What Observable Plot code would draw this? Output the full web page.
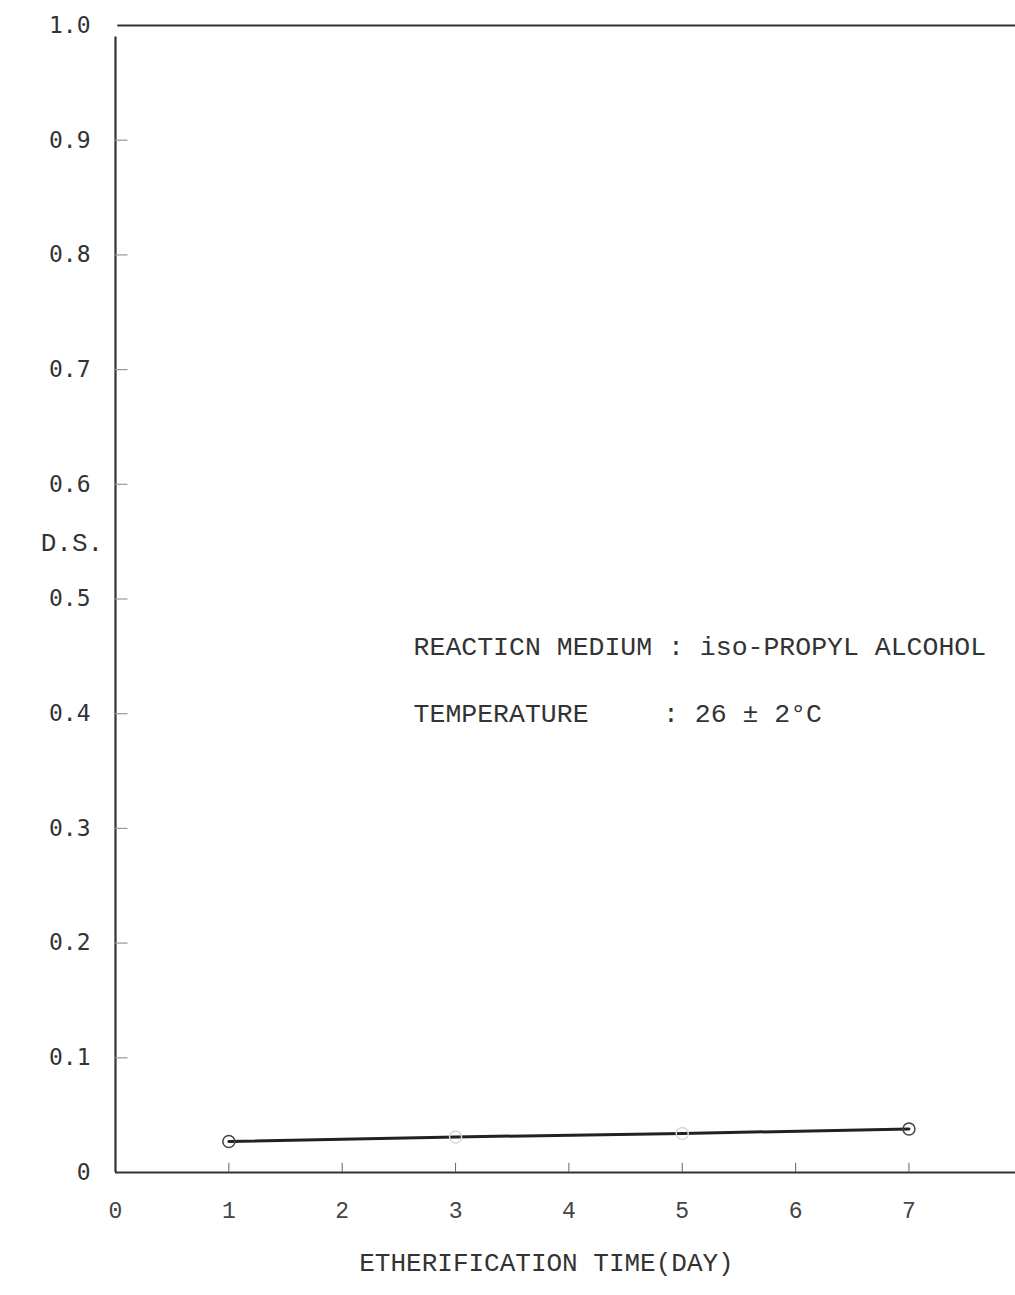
<!DOCTYPE html>
<html>
<head>
<meta charset="utf-8">
<script src="https://cdn.jsdelivr.net/npm/d3@7"></script>
<script src="https://cdn.jsdelivr.net/npm/@observablehq/plot@0.6"></script>
<style>
  html, body { margin: 0; padding: 0; background: #fff; }
  #chart svg { display: block; }
</style>
</head>
<body>
<div id="chart"></div>
<script>
// Degree of substitution vs. etherification time
const days = [1, 3, 5, 7];
const ds = [0.027, 0.031, 0.034, 0.038];
const xTicks = [0, 1, 2, 3, 4, 5, 6, 7];
const xTickLabels = ["0", "1", "2", "3", "4", "5", "6", "7"];
const yTicks = [0, 0.1, 0.2, 0.3, 0.4, 0.5, 0.6, 0.7, 0.8, 0.9, 1.0];
const yTickLabels = ["0", "0.1", "0.2", "0.3", "0.4", "0.5", "0.6", "0.7", "0.8", "0.9", "1.0"];
const xTitle = "ETHERIFICATION TIME(DAY)";
const yTitle = "D.S.";
const noteMedium = "REACTICN MEDIUM : iso-PROPYL ALCOHOL";
const noteTempLabel = "TEMPERATURE";
const noteTempValue = ": 26 ± 2°C";

const points = days.map((d, i) => ({day: d, ds: ds[i], solid: i === 0 || i === days.length - 1}));

const ink = "#333";
const typeFont = "'Liberation Mono', 'DejaVu Sans Mono', monospace";
const tickFont = "'DejaVu Sans Mono', 'Liberation Mono', monospace";

const chart = Plot.plot({
  width: 1015,
  height: 1295,
  marginLeft: 115,
  marginRight: 0,
  marginTop: 25,
  marginBottom: 123,
  style: {background: "#fff", color: ink, overflow: "visible"},
  x: {domain: [0, 7.94]},
  y: {domain: [0, 1]},
  marks: [
    // frame lines
    Plot.ruleY([1], {x1: 0.02, x2: 7.94, stroke: ink, strokeWidth: 2}),
    Plot.ruleX([0], {y1: 0, y2: 0.99, stroke: ink, strokeWidth: 2.2}),
    Plot.ruleY([0], {x1: 0, x2: 7.94, stroke: ink, strokeWidth: 2.2}),
    // inner tick marks
    Plot.ruleY(yTicks.slice(1, -1), {x1: 0, x2: 0.11, stroke: "#999", strokeWidth: 1.2}),
    Plot.ruleX(xTicks.slice(1), {y1: 0, y2: 0.008, stroke: "#666", strokeWidth: 1}),
    // axes (labels only)
    Plot.axisY({
      ticks: yTicks,
      tickFormat: (d) => yTickLabels[yTicks.indexOf(d)],
      tickSize: 0,
      tickPadding: 25,
      label: null,
      fontSize: 23,
      fontFamily: tickFont,
      fill: ink
    }),
    Plot.axisX({
      ticks: xTicks,
      tickFormat: (d) => xTickLabels[xTicks.indexOf(d)],
      tickSize: 0,
      tickPadding: 29,
      label: null,
      fontSize: 23,
      fontFamily: typeFont,
      fill: "#444"
    }),
    // axis titles
    Plot.text([yTitle], {x: -0.66, y: 0.549, text: (d) => d, textAnchor: "start",
      fontSize: 26, fontFamily: typeFont, fill: ink}),
    Plot.text([xTitle], {frameAnchor: "bottom", dx: -19, dy: 98, text: (d) => d,
      fontSize: 26, fontFamily: typeFont, fill: ink}),
    // annotations
    Plot.text([noteMedium], {x: 2.63, y: 0.459, text: (d) => d, textAnchor: "start",
      fontSize: 26.5, fontFamily: typeFont, fill: ink}),
    Plot.text([noteTempLabel], {x: 2.63, y: 0.4, text: (d) => d, textAnchor: "start",
      fontSize: 26.5, fontFamily: typeFont, fill: ink}),
    Plot.text([noteTempValue], {x: 4.83, y: 0.4, text: (d) => d, textAnchor: "start",
      fontSize: 26.5, fontFamily: typeFont, fill: ink}),
    // data
    Plot.line(points, {x: "day", y: "ds", stroke: "#222", strokeWidth: 3}),
    Plot.dot(points, {x: "day", y: "ds", r: 6, fill: "#fff", fillOpacity: 0,
      stroke: (d) => d.solid ? "#444" : "#d8d8d8", strokeWidth: 1.5})
  ]
});

document.getElementById("chart").append(chart);
</script>
</body>
</html>
